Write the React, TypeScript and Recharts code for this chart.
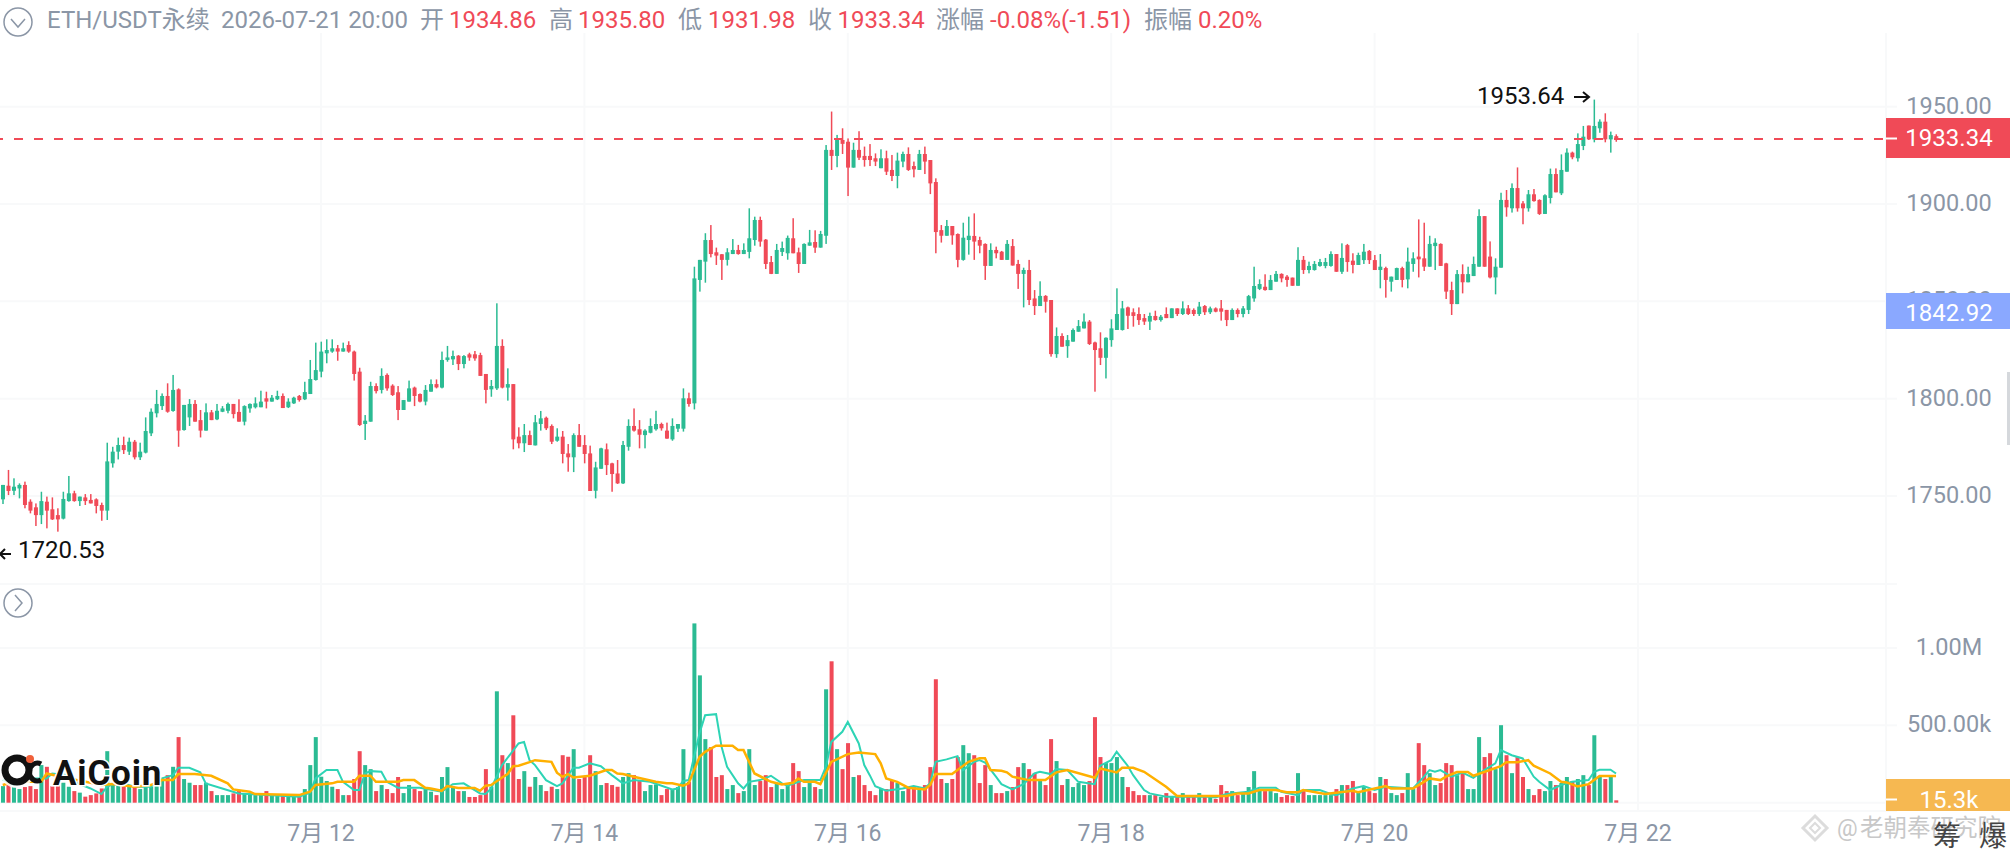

import React from "react";
import { ComposedChart, Bar, Line, XAxis, YAxis, CartesianGrid, ReferenceLine } from "recharts";

const FONT = 'Roboto, "Noto Sans CJK SC", sans-serif';
const UP = "#2BBB93";
const DOWN = "#F04A57";
const GRID = "#f8f9fa";
const GRAY = "#8B96A6";

const LAST_HOUR = 308; // hours after 07-09 00:00 -> 07-21 20:00
const dayTicks = [72, 120, 168, 216, 264, 312];
const dayLabels = ["7月 12", "7月 14", "7月 16", "7月 18", "7月 20", "7月 22"];
const priceTicks = [1950, 1900, 1850, 1800, 1750];
const volumeTicks = [1000000, 500000, 0];

const opens = [1745.4,
1748.3,1755.3,1752.7,1753.9,1755.7,1747.1,1744.2,1740.2,1747.1,1743.2,
1740.2,1738.4,1747.4,1751.4,1747.4,1749.3,1748,1748.3,1745.4,1742.5,
1766.8,1772.8,1776.2,1772.8,1777.9,1769.9,1772.3,1782.2,1792.5,1796.2,
1801.4,1793.7,1804.8,1783.9,1790.4,1797.3,1789,1783.6,1793,1789.4,
1793.3,1793.8,1797.3,1793.2,1788.2,1795,1795.6,1795.6,1800.2,1798.5,
1799.7,1801.4,1795.6,1797.6,1801.4,1799.7,1802.4,1809.6,1813.9,1823.3,
1824.2,1825.9,1824.2,1827.6,1824.2,1813.9,1787,1788.2,1806.5,1804.5,
1812.2,1806.7,1803.3,1794.2,1798.5,1805.7,1802.4,1798.5,1803.6,1807.5,
1805.7,1819.9,1820.2,1822.1,1817.8,1822.8,1822.8,1822.4,1812.7,1804.8,
1805.3,1827.1,1805.7,1807.5,1780.5,1777.1,1781.3,1776,1787,1790.2,
1786,1778.4,1780.5,1771.9,1769.9,1781.3,1776.2,1771.9,1752.7,1764,
1774,1766.8,1761.6,1756.5,1775.3,1786,1784.3,1781.3,1782.5,1784.3,
1787,1783.6,1779.1,1784.6,1784.6,1800.2,
1797.6,1861,1870.4,1881.5,1875.2,1874.2,1871.3,1874.3,1876.4,1874.3,
1875.4,1881.5,1891.8,1881.7,1870.2,1864.1,1875.4,1874.7,1882.4,1875.2,
1869.2,1878.6,1880.5,1877.6,1883.7,1927.8,1924.7,1932.9,1932,1918.7,
1927.8,1924.7,1924.7,1923.5,1918.4,1923.5,1917.5,1914.4,1921.8,1925.7,
1919.5,1917.5,1925.7,1922.6,1911.3,1886.6,1883.7,1888.7,1884.6,1871.3,
1881.5,1883.6,1881.5,1879.5,1868.2,1876.4,1875.5,1871.3,1878.4,1869.2,
1864.1,1866.1,1851.5,1847.6,1852.8,1850.7,1822.9,1832.2,1827,1829.3,
1834.4,1836.1,1839.6,1828.9,1825.9,1821,1830.1,1835.3,1835.3,1846.9,
1844.4,1843.5,1841.4,1839.6,1842.5,1840.4,1843.5,1841.4,1846.4,1843.5,
1846.4,1845.6,1843.5,1847.6,1844.4,1846.4,1846.4,1845.6,1840.4,1845.6,
1843.5,1845.6,1851.5,1856.4,1857.5,1855.8,1860.1,1864.1,1862.7,1862.2,
1858,1871.3,1866.1,1866.1,1868.2,1868.2,1868.2,1874.3,1865.2,1878.9,
1870.9,1868.7,1871.2,1875.9,1871.2,1866.1,1867.1,1860.1,1861,1867.1,
1861.3,1869.2,1873,1872.1,1867.8,1878.4,1879.5,1869.5,1855.8,1848.6,
1864,1859.8,1863,1867.8,1893.8,1873,1862.3,1867.3,1902.1,1897.8,
1908.2,1900.3,1897.8,1905,1902.1,1894.9,1903.1,1915.4,1905.5,1916.6,
1926.4,1923.5,1929.8,1940.3,1933.2,1938.9,1942.3,1933.2,1934.86];

const highs = [1749.7,
1755.7,1763.4,1759.1,1756.5,1757.4,1748.3,1746.2,1752.2,1749.7,1749.3,
1743.7,1752.2,1760.3,1752.7,1749.7,1751,1751,1748.8,1746.6,1777.4,
1775.3,1780,1780.5,1780,1778.8,1777.4,1790.4,1795,1804.5,1802.7,
1807.9,1812.2,1805.3,1796.8,1799.8,1799.3,1794.2,1797.6,1794.2,1797.3,
1796.2,1798,1797.3,1799.7,1796.6,1797.6,1800.7,1804.1,1803.6,1801.9,
1804.1,1802.7,1800.2,1801,1801.9,1808.7,1819.9,1828.8,1829.3,1830.5,
1830.5,1827.6,1828.8,1829.5,1824.7,1815.9,1791.6,1808.7,1807.9,1815.6,
1813,1807.4,1806.5,1799.3,1809.3,1806.2,1802.7,1807,1809.9,1809.9,
1824.2,1827.1,1824.7,1822.4,1822.4,1823.6,1824.5,1823.6,1812.7,1809.6,
1849,1830.5,1815.6,1807.5,1785.3,1787,1783.6,1791.6,1793.7,1790.8,
1786.8,1784.8,1783.4,1776.7,1782.2,1787,1781.3,1775.9,1767.6,1774.8,
1777,1767.1,1768.5,1778.3,1789.4,1795,1789,1784.3,1789.9,1793.8,
1787.7,1787.7,1789.9,1787,1805.3,1803.1,
1867.8,1871.3,1885,1889.2,1877.6,1874.3,1877.3,1882,1879,1879.8,
1897.8,1893.5,1893.5,1882,1873.3,1879.5,1880.7,1883.8,1892.7,1877.6,
1879.8,1886.7,1886.5,1886.2,1930.3,1947.5,1935.5,1938.9,1933.7,1931.5,
1937.4,1929.5,1930.8,1926,1928.1,1927.4,1925.2,1926.4,1926.9,1929.1,
1921.8,1927.8,1929.5,1922.6,1913.2,1889.2,1891.8,1888.7,1884.9,1890.4,
1893.5,1895.2,1883.2,1879.8,1879.8,1878.1,1875.9,1881.5,1882,1871.3,
1867.3,1871.3,1855.8,1860.3,1853.2,1850.7,1836.6,1833.6,1832.7,1836.1,
1840.4,1843.8,1840.4,1829.3,1834.1,1831.5,1840.8,1856.7,1850.2,1847.3,
1846.4,1846.9,1843.5,1844.2,1845.2,1843,1846.9,1846.4,1846.4,1850,
1848.1,1846.4,1849.7,1848.1,1847.3,1846.9,1850.7,1845.6,1846.4,1846.4,
1847.6,1853.3,1867.8,1861.3,1863.9,1863.5,1865.6,1864.4,1863.5,1862.2,
1877.8,1873.3,1870.4,1870.7,1871.8,1872.3,1875.7,1874.3,1879.8,1879.5,
1874.7,1875,1879.5,1876.4,1873.8,1874.3,1867.8,1862.7,1867.3,1867.8,
1877.6,1875.2,1892.1,1890.4,1883.7,1882.4,1879.8,1869.8,1860.1,1866.1,
1869,1867.8,1873,1897.3,1893.8,1880.8,1872.1,1905.8,1907.2,1910.6,
1918.8,1901.5,1907.2,1907.7,1902.4,1905,1918.2,1918.3,1925.5,1928.6,
1926.9,1936.3,1940.1,1940.3,1953.64,1943.5,1946.6,1937.2,1935.8];

const lows = [1741.1,
1745.9,1750.5,1750.5,1748.8,1743.7,1741.1,1734.6,1735.6,1733.4,1737.7,
1731.7,1738,1747.1,1747.1,1744.9,1745.4,1746.2,1741.1,1737.3,1737.7,
1764.6,1768.8,1771.6,1771.1,1768.8,1768.5,1771.9,1780.8,1790.4,1794.2,
1792.8,1793.3,1775.3,1783.6,1786,1788.2,1780.1,1783.6,1789,1789,
1793.1,1792.5,1789.9,1788.2,1786.3,1792.8,1795,1795.6,1795,1798.5,
1799.3,1795.2,1795.2,1797.3,1798.5,1799.3,1802.4,1809.3,1811,1818.2,
1823.6,1819.5,1824.2,1823.6,1809.3,1786,1778.8,1788.2,1802.7,1802.7,
1804.1,1801.4,1789,1794.2,1798.5,1796.2,1798.1,1796.6,1803.6,1805.3,
1805.3,1819,1817.3,1814.7,1815.6,1819.5,1819.5,1811.7,1797.6,1801,
1804.5,1805.3,1799,1774,1774.5,1772.6,1776.2,1776,1783.6,1783.9,
1776.7,1777.9,1766.8,1762.5,1762.3,1775.3,1766.8,1752.6,1748.8,1764,
1760.8,1752.2,1756.2,1756.2,1773.3,1783.1,1774.5,1774.5,1782.2,1783.6,
1783.6,1779.4,1778.4,1782.9,1783.1,1795.9,
1794.5,1855,1859.6,1872.6,1868.7,1861,1868.4,1874.3,1874,1874.3,
1872.1,1878.6,1878.1,1866.6,1864,1864.1,1873.3,1871.4,1874.7,1864.6,
1869.2,1878.6,1874.9,1877.6,1879.5,1917.5,1918.9,1925.7,1904.1,1918.7,
1922.6,1919.2,1919.5,1919.5,1918.4,1914.9,1911.8,1908.1,1918.9,1917,
1913.7,1917.5,1915.4,1905.1,1874.7,1880.2,1883.7,1879.1,1867.5,1870.9,
1874,1871.3,1874.7,1861,1868.2,1872.1,1871.3,1871.3,1868.4,1856.4,
1846.9,1848.1,1843,1847.6,1844.2,1821.6,1821,1826.7,1821,1829.3,
1834.4,1836.1,1827.6,1803.6,1817.3,1810.4,1826.7,1835.3,1835,1835.8,
1837,1837.9,1837.9,1835.3,1840.1,1839.6,1841.4,1841.4,1842.5,1843,
1843,1842.5,1842.5,1843,1843.5,1844.4,1840.1,1837.3,1840.4,1841.8,
1841.8,1843.5,1849.8,1855.8,1855.5,1855.8,1860.1,1859.8,1857.5,1858,
1858,1864.1,1864.4,1865.8,1867.8,1867,1867.8,1865.2,1864.1,1865.2,
1864.4,1868.7,1869.2,1869.2,1866.1,1856.7,1851.9,1855,1861,1857.2,
1856.7,1865.2,1862.3,1865.6,1867.8,1866.1,1868.2,1851.2,1843,1848.6,
1854.1,1859.8,1863,1867.8,1867.8,1861.8,1853.6,1867.3,1893.5,1895.6,
1896.1,1889.6,1896.1,1901.2,1894.4,1894.9,1900.3,1906,1904.6,1916.6,
1923,1921.8,1927.7,1932.9,1931.7,1936.6,1931.7,1926.4,1931.98];

const closes = [1748.8,
1755.7,1752.6,1754.8,1755.7,1745.4,1742.5,1740.2,1747.4,1742.5,1738,
1738,1748.5,1751.4,1747.4,1749.7,1747.4,1746.2,1744.9,1742.5,1767.8,
1772.8,1776.2,1773.6,1777.9,1769.9,1772.8,1783.4,1793.3,1797.3,1801.4,
1793.3,1804.5,1783.6,1796.8,1797.3,1788.2,1783.6,1793,1789,1793.8,
1795,1797.3,1792.1,1788.2,1796.2,1797.3,1797.6,1798.5,1798.5,1800.5,
1801.4,1795.2,1798.5,1800.5,1799.3,1803.4,1810.1,1814.7,1824.2,1825,
1825.9,1824.2,1825.9,1824.2,1812.7,1786.5,1788.7,1806.5,1803.9,1811.7,
1805.3,1801.9,1794.2,1799.3,1805.3,1801.4,1798.5,1804.5,1807.5,1805.8,
1819.9,1821.2,1821.9,1817.8,1821.9,1821.1,1820.7,1811.7,1804.5,1806.5,
1827.1,1805.7,1807.5,1779.1,1777.1,1781.3,1776.2,1787.9,1789.9,1784.8,
1777.9,1780.5,1771.6,1769.9,1781.3,1775.3,1771.6,1752.6,1764.7,1774.5,
1765.9,1761.3,1756.5,1776.2,1786,1783.6,1781.5,1783.6,1786,1787,
1784.8,1779.5,1786,1787,1800.2,1797.3,
1861.8,1871.3,1881.5,1874.3,1873.5,1871.3,1875.2,1876.4,1874.3,1876.4,
1882.4,1891.8,1880.7,1869.2,1864.1,1876.4,1877.4,1882.6,1874.7,1869.2,
1879.5,1880.3,1877.6,1884.6,1927.8,1924.7,1932.9,1930.9,1918.7,1927.8,
1923.8,1922.6,1922.6,1921.8,1923.5,1916.6,1914.4,1922.3,1925.7,1917.5,
1917.8,1925.7,1921.8,1910.6,1885.6,1883.7,1888.7,1883.9,1871.3,1882.7,
1883.7,1880.7,1878.6,1868.2,1876.4,1874.7,1871.3,1879.5,1868.4,1864.1,
1866.1,1850.7,1847.6,1852.8,1849.8,1822.9,1832.2,1826.7,1830.1,1835.3,
1837.3,1839.6,1828.1,1825,1821,1831.3,1836.1,1843.5,1846.4,1842.6,
1842.5,1840.4,1839.6,1842.5,1840.4,1842.1,1841.4,1846.4,1843.5,1846.4,
1843.5,1843.5,1847.3,1844.4,1846.4,1844.7,1844.7,1840.4,1845.6,1843.5,
1846.4,1852.7,1857.9,1858.9,1855.8,1861,1864.1,1861.8,1861,1858,
1871.3,1866.1,1868.2,1869.2,1870.2,1870.2,1874.3,1865.2,1872.3,1870.2,
1868.7,1873.8,1875.5,1871.2,1866.1,1867.8,1861,1862.7,1867.1,1861,
1870.4,1872.1,1871.6,1867.8,1879.5,1880.1,1868.2,1855,1848.6,1864,
1859.8,1864,1869.2,1893.8,1867.8,1862.3,1867.8,1902.1,1898.3,1908.2,
1897.8,1897.8,1905,1901.5,1894.9,1904.5,1915.4,1906,1917.5,1926.4,
1924,1930.8,1934.6,1933.2,1940.1,1942.3,1933.2,1935.4,1933.34];

const volumes = [150,
107,135,101,88,101,107,88,243,232,107,
125,129,103,75,65,39,49,60,92,333,
125,114,103,114,103,88,103,103,107,157,
178,232,424,153,129,114,114,129,75,49,
49,49,60,75,60,60,49,56,75,49,
49,56,49,49,39,88,243,424,168,140,
103,88,49,49,153,333,243,217,75,114,
88,62,166,62,114,88,75,88,71,49,
166,230,103,75,75,37,37,49,217,103,
720,307,256,565,153,204,103,166,114,75,
103,88,307,297,346,153,166,307,204,114,
127,114,103,166,191,178,140,75,114,118,
49,88,88,101,346,135,
1159,823,411,359,166,178,88,114,62,75,
346,114,140,178,101,127,88,114,256,204,
101,127,101,88,733,914,346,217,385,166,
178,114,75,49,88,88,140,127,75,101,
101,88,114,230,798,153,127,153,295,372,
320,307,127,243,114,62,62,75,101,230,
256,217,191,140,114,411,269,114,153,101,
127,114,140,553,295,256,256,295,166,101,
75,49,49,49,49,37,62,43,49,62,
49,49,62,43,37,24,114,75,75,49,
62,101,204,88,75,75,62,37,49,43,
191,75,49,49,49,49,49,88,114,114,
140,75,101,75,62,166,153,62,49,62,
191,88,385,243,191,114,127,256,243,178,
191,88,88,424,295,320,217,501,307,191,
295,166,88,49,88,75,140,114,127,166,
140,153,178,114,436,166,153,166,15.3];

const fastHours = [14,16,18,22,23,26,27,30,32,33,35,38,41,43,45,46,48,50,51,54,57,62,68,70,71,73,75,76,78,79,80,81,83,84,86,90,94,96,98,101,102,103,105,108,109,110,111,113,115,116,118,119,121,123,124,125,127,129,132,136,137,138,139,140,141,142,144,145,146,148,149,150,152,154,156,157,160,163,164,165,167,168,170,171,172,173,175,178,180,182,183,184,186,188,189,191,192,193,195,196,198,200,202,203,205,206,208,210,213,214,216,217,219,220,222,223,226,234,235,237,241,243,246,247,250,251,254,256,257,260,262,264,266,271,273,274,275,276,278,280,282,284,286,287,289,291,293,294,296,298,300,303,304,305,307,308];
const fastValues = [150,114,157,157,189,178,135,92,56,103,135,103,103,157,178,226,226,196,125,92,60,49,39,65,157,211,211,135,82,82,189,204,200,135,97,97,71,120,125,60,56,92,243,383,393,275,243,146,107,125,226,226,254,236,206,178,125,146,135,86,92,140,146,300,450,565,572,361,232,125,92,135,146,174,125,110,146,146,232,393,458,522,383,243,178,107,77,92,107,92,125,264,280,301,211,264,275,260,168,120,86,120,189,200,185,217,211,135,120,239,275,329,239,178,82,60,39,39,34,56,71,97,97,71,49,82,82,56,49,92,107,82,103,92,168,211,200,211,168,194,161,211,254,340,307,286,168,135,82,114,135,146,200,213,213,189];

const slowHours = [14,16,18,21,22,26,30,32,34,38,41,43,45,46,49,52,55,56,59,60,68,70,71,74,75,78,79,81,82,86,87,89,91,92,94,95,97,100,101,102,103,105,106,107,108,110,111,114,115,116,117,118,121,124,125,126,127,129,133,135,136,138,139,141,142,144,147,148,149,151,154,156,158,159,160,162,163,165,168,170,173,174,175,177,179,182,183,184,187,190,192,193,194,196,197,198,201,204,206,208,213,214,217,218,220,222,226,228,237,239,241,243,246,248,250,251,255,260,261,266,267,271,273,274,276,277,279,281,282,287,288,290,292,293,296,298,299,301,303,305,308];
const slowValues = [114,135,135,135,189,157,129,114,120,103,114,146,146,185,185,174,125,86,71,56,49,71,114,125,135,135,174,174,135,135,146,146,97,92,77,107,95,95,77,110,114,163,185,236,239,262,275,264,194,168,185,163,174,211,211,189,185,168,135,125,125,110,125,297,329,368,368,340,340,189,135,118,129,157,135,135,120,264,314,325,314,254,157,135,97,86,114,185,185,264,288,288,211,206,196,168,146,146,196,211,161,221,196,226,226,200,103,43,43,60,60,82,82,67,67,82,56,77,67,107,92,92,135,157,146,168,198,198,174,236,262,262,275,239,189,135,131,105,120,172,172];

const firstHour = LAST_HOUR - opens.length + 1;
const fastByHour = new Map(fastHours.map((h, i) => [h, fastValues[i] * 1000]));
const slowByHour = new Map(slowHours.map((h, i) => [h, slowValues[i] * 1000]));
const rows = opens.map((o, i) => {
  const t = firstHour + i;
  return {
    t, open: o, high: highs[i], low: lows[i], close: closes[i],
    volume: volumes[i] * 1000,
    fast: fastByHour.has(t) ? fastByHour.get(t) : null,
    slow: slowByHour.has(t) ? slowByHour.get(t) : null,
  };
});

const Candle = (p: any) => {
  const { x, y, width, height, payload: d } = p;
  const top = Math.min(y, y + height);
  const h = Math.abs(height);
  const k = d.high > d.low ? h / (d.high - d.low) : 0;
  const yOf = (v: number) => top + (d.high - v) * k;
  const c = d.close >= d.open ? UP : DOWN;
  const a = yOf(Math.max(d.open, d.close));
  const b = yOf(Math.min(d.open, d.close));
  return (
    <g>
      <rect x={x + width / 2 - 0.75} y={top} width={1.5} height={Math.max(h, 1)} fill={c} />
      <rect x={x} y={a} width={width} height={Math.max(b - a, 1.5)} fill={c} />
    </g>
  );
};

const VolumeBar = (p: any) => {
  const { x, y, width, height, payload: d } = p;
  return <rect x={x} y={y} width={width} height={height} fill={d.close >= d.open ? UP : DOWN} />;
};

const AxisTick = (fmt: (v: number) => string) => (p: any) => (
  <text x={p.x + 43} y={p.y + 7} textAnchor="middle" fontFamily={FONT} fontSize={23.5} fill={GRAY}>
    {fmt(p.payload.value)}
  </text>
);
const fmtVolume = (v: number) => (v === 1000000 ? "1.00M" : v === 500000 ? "500.00k" : "0");
const DateTick = (p: any) => (
  <text x={p.x} y={257} textAnchor="middle" fontFamily={FONT} fontSize={23} fill={GRAY}>
    {dayLabels[dayTicks.indexOf(p.payload.value)]}
  </text>
);

const T = ({ x, y = 28, c = GRAY, s = 24, children, ...rest }: any) => (
  <text x={x} y={y} fill={c} fontSize={s} fontFamily={FONT} {...rest}>{children}</text>
);

const Overlay = () => (
  <svg width={2010} height={854} style={{ position: "absolute", left: 0, top: 0 }}>
    <rect x={0} y={0} width={2010} height={33} fill="#fff" />
    <line x1={0} x2={1897} y1={584} y2={584} stroke={GRID} strokeWidth={2} />
    <line x1={0} x2={1897} y1={811} y2={811} stroke={GRID} strokeWidth={2} />
    <line x1={1886} x2={1886} y1={33} y2={811} stroke={GRID} strokeWidth={2} />

    <circle cx={18} cy={22} r={14} fill="none" stroke={GRAY} strokeWidth={1.5} />
    <path d="M11 19 L18 27 L25 19" fill="none" stroke={GRAY} strokeWidth={1.5} />
    <circle cx={18} cy={603} r={14} fill="#fff" stroke={GRAY} strokeWidth={1.5} />
    <path d="M15 595 L22 603 L15 611" fill="none" stroke={GRAY} strokeWidth={1.5} />

    <T x={47}>ETH/USDT永续</T>
    <T x={221}>2026-07-21 20:00</T>
    <T x={420}>开</T><T x={449} c={DOWN}>1934.86</T>
    <T x={549}>高</T><T x={578} c={DOWN}>1935.80</T>
    <T x={678}>低</T><T x={708} c={DOWN}>1931.98</T>
    <T x={808}>收</T><T x={837.5} c={DOWN}>1933.34</T>
    <T x={936}>涨幅</T><T x={990} c={DOWN}>-0.08%(-1.51)</T>
    <T x={1144}>振幅</T><T x={1198} c={DOWN}>0.20%</T>

    <T x={1477} y={104} c="#111">1953.64</T>
    <path d="M1574 97 H1588 M1583 92 L1589 97 L1583 102" fill="none" stroke="#111" strokeWidth={2} />
    <T x={18} y={558} c="#111">1720.53</T>
    <path d="M11 554 H1 M5 549 L0 554 L5 559" fill="none" stroke="#111" strokeWidth={2} />

    <rect x={1886} y={118} width={124} height={40} fill={DOWN} />
    <line x1={1886} x2={1897} y1={138.5} y2={138.5} stroke="#fff" strokeWidth={2} />
    <T x={1949} y={146} c="#fff" s={24} textAnchor="middle">1933.34</T>
    <rect x={1886} y={293} width={124} height={36} fill="#8AA8FF" />
    <T x={1949} y={321} c="#fff" s={24} textAnchor="middle">1842.92</T>
    <rect x={1886} y={779} width={124} height={32} fill="#F6B851" />
    <line x1={1886} x2={1897} y1={799.5} y2={799.5} stroke="#fff" strokeWidth={2} />
    <T x={1949} y={808} c="#fff" s={24} textAnchor="middle">15.3k</T>

    <rect x={2007} y={372} width={3} height={73} fill="#d5d8dc" />

    <circle cx={17} cy={770} r={14} fill="none" stroke="#fff" strokeWidth={8} opacity={0.85} />
    <text x={53} y={785} fontFamily={FONT} fontWeight={700} fontSize={35} fill="#111" letterSpacing={0.8}
      stroke="#fff" strokeWidth={3} paintOrder="stroke">AiCoin</text>
    <circle cx={17} cy={770} r={12} fill="none" stroke="#111" strokeWidth={7} />
    <path d="M41 764 A8 9 0 1 0 41 780" fill="none" stroke="#111" strokeWidth={5} />
    <circle cx={30} cy={759} r={4} fill="#F0603A" />

    <path d="M1815 816 L1827 828 L1815 840 L1803 828 Z" fill="none" stroke="#dcdcdc" strokeWidth={3} />
    <path d="M1815 823 L1820 828 L1815 833 L1810 828 Z" fill="none" stroke="#dcdcdc" strokeWidth={2} />
    <T x={1837} y={836} c="#c8c8c8" s={23}>@</T>
    <T x={1860} y={836} c="#c8c8c8" s={23.5}>老朝奉研究院</T>
    <T x={1933} y={846} c="#444" s={28}>筹</T>
    <T x={1979} y={846} c="#444" s={28}>爆</T>
  </svg>
);

export default function App() {
  const xDomain: [number, number] = [13.5, 357.2];
  return (
    <div style={{ position: "absolute", left: 0, top: 0, width: 2010, height: 854, background: "#fff", overflow: "hidden" }}>
      <div style={{ position: "absolute", left: 0, top: 0 }}>
        <ComposedChart width={2010} height={585} data={rows} margin={{ top: 0, right: 0, bottom: 0, left: 0 }}>
          <CartesianGrid stroke={GRID} strokeWidth={2} verticalValues={dayTicks} horizontalValues={priceTicks} syncWithTicks={false} />
          <XAxis dataKey="t" type="number" scale="linear" domain={xDomain} ticks={dayTicks} allowDataOverflow hide />
          <YAxis orientation="right" width={124} type="number" domain={[1704.3, 2004.8]} ticks={priceTicks} interval={0}
            axisLine={false} tickSize={11} tickMargin={9} tickLine={{ stroke: GRID, strokeWidth: 2 }}
            tick={AxisTick((v) => v.toFixed(2))} allowDataOverflow />
          <ReferenceLine y={1933.34} stroke={DOWN} strokeWidth={2} strokeDasharray="9 11" strokeDashoffset={-3} />
          <Bar dataKey={(d: any) => [d.low, d.high]} barSize={4} shape={Candle} isAnimationActive={false} />
        </ComposedChart>
      </div>
      <div style={{ position: "absolute", left: 0, top: 584 }}>
        <ComposedChart width={2010} height={270} data={rows} margin={{ top: 0, right: 0, bottom: 0, left: 0 }}>
          <CartesianGrid stroke={GRID} strokeWidth={2} verticalValues={dayTicks} horizontalValues={volumeTicks} syncWithTicks={false} />
          <XAxis dataKey="t" type="number" scale="linear" domain={xDomain} ticks={dayTicks} interval={0} allowDataOverflow height={43}
            axisLine={false} tickLine={false} tick={DateTick} />
          <YAxis orientation="right" width={124} type="number" domain={[-53700, 1413700]} ticks={volumeTicks} interval={0}
            axisLine={false} tickSize={11} tickMargin={9} tickLine={{ stroke: GRID, strokeWidth: 2 }}
            tick={AxisTick(fmtVolume)} allowDataOverflow />
          <Bar dataKey="volume" barSize={4} shape={VolumeBar} isAnimationActive={false} />
          <Line dataKey="fast" type="linear" stroke="#2DD4B5" strokeWidth={2} dot={false} connectNulls isAnimationActive={false} />
          <Line dataKey="slow" type="linear" stroke="#FFB000" strokeWidth={2.5} dot={false} connectNulls isAnimationActive={false} />
        </ComposedChart>
      </div>
      <Overlay />
    </div>
  );
}
